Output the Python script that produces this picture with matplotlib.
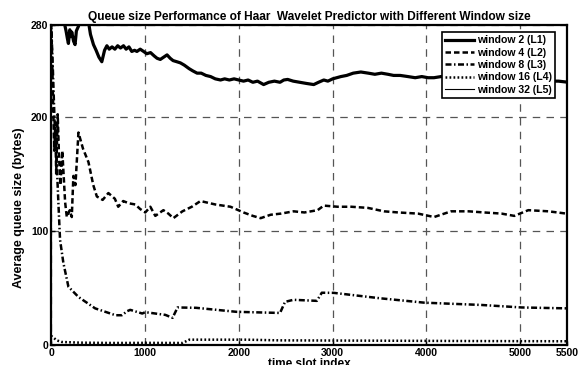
"""Queue size of the Haar wavelet predictor for several window sizes."""

import matplotlib

matplotlib.use("Agg")
import matplotlib.pyplot as plt

# values
l1_x = [0, 60, 120, 160, 175, 185, 200, 210, 221, 240, 256, 270, 292, 310, 363, 395, 420,
        452, 480, 510, 541, 570, 595, 620, 650, 680, 710, 740, 772, 800, 830, 860, 890, 915,
        950, 986, 1020, 1060, 1100, 1130, 1164, 1200, 1236, 1270, 1300, 1340, 1378, 1420,
        1470, 1510, 1556, 1600, 1650, 1700, 1750, 1806, 1850, 1900, 1950, 2000, 2051, 2100,
        2150, 2200, 2265, 2320, 2380, 2440, 2480, 2521, 2580, 2650, 2720, 2799, 2850, 2906,
        2950, 3000, 3088, 3150, 3220, 3301, 3380, 3450, 3520, 3590, 3650, 3720, 3803, 3880,
        3950, 4017, 4080, 4156, 4250, 4350, 4450, 4550, 4650, 4750, 4850, 4950, 5050, 5150,
        5250, 5350, 5406, 5512]
l1_y = [300, 300, 290, 275, 268, 264, 276, 270, 274, 266, 263, 275, 279, 290, 290, 285, 272,
        263, 258, 252, 248, 258, 262, 259, 261, 259, 262, 260, 262, 259, 261, 257, 258, 257,
        259, 257, 255, 256, 253, 251, 250, 252, 254, 251, 249, 248, 247, 245, 242, 240, 238,
        238, 236, 235, 233, 232, 233, 232, 233, 232, 231, 232, 230, 231, 228, 230, 231, 230,
        232, 232.5, 231, 230, 229, 228, 230, 232, 231, 233, 235, 236, 238, 239, 238, 237,
        238, 237, 236, 236, 235, 234, 235, 234, 234, 235, 235, 234, 235, 234, 233, 233, 232,
        233, 232, 232, 231, 231, 231, 230]

l2_x = [0, 15, 25, 35, 45, 55, 71, 85, 100, 120, 150, 168, 200, 221, 238, 260, 292, 340,
        399, 450, 488, 550, 611, 680, 716, 769, 830, 897, 950, 1004, 1058, 1111, 1197, 1250,
        1303, 1400, 1500, 1592, 1750, 1912, 2051, 2150, 2233, 2340, 2450, 2585, 2700, 2840,
        2906, 3055, 3200, 3376, 3547, 3700, 3910, 4081, 4263, 4450, 4615, 4800, 4936, 5085,
        5300, 5491]
l2_y = [290, 240, 200, 170, 195, 150, 202, 165, 140, 170, 125, 112, 118, 112, 148, 140, 186,
        172, 160, 140, 130, 127, 133, 128, 121, 126, 124, 123, 119, 116, 121, 113, 118, 115,
        111, 117, 121, 126, 123, 121, 116, 113, 111, 114, 115, 117, 116, 118, 122, 121, 121,
        120, 117, 116, 115, 112, 117, 117, 116, 115, 113, 118, 117, 115]

l3_x = [0, 20, 40, 60, 78, 96, 131, 185, 292, 470, 687, 755, 812, 844, 972, 1004, 1218, 1295,
        1348, 1546, 1974, 2440, 2493, 2582, 2832, 2885, 3012, 3512, 3977, 4585, 5015, 5512]
l3_y = [285, 240, 190, 160, 125, 92, 72, 51, 42, 32, 26, 26, 29.6, 30.7, 27.5, 28.7, 26.3, 23.7,
        32.8, 32.5, 29, 28, 37.7, 39.5, 38.6, 45.7, 45.6, 40.8, 37, 35, 32.8, 32]

l4_x = [0, 26, 60, 114, 300, 652, 1000, 1400, 1474, 2083, 2435, 3515, 4500, 5512]
l4_y = [8, 6.4, 4, 2.6, 2.0, 1.7, 1.8, 1.7, 4.6, 4.6, 4.0, 3.7, 3.4, 3.2]

x_ticks = [0, 1000, 2000, 3000, 4000, 5000, 5500]
y_ticks = [0, 100, 200, 280]
labels = ["window 2 (L1)", "window 4 (L2)", "window 8 (L3)", "window 16 (L4)", "window 32 (L5)"]

plt.rcParams["font.family"] = ["Liberation Sans", "DejaVu Sans"]
plt.rcParams["font.weight"] = "bold"

fig = plt.figure(figsize=(5.8, 3.65), dpi=100)
ax = fig.add_axes([0.088, 0.055, 0.89, 0.876])

ax.plot(l1_x, l1_y, color="black", lw=2.3, ls="-", label=labels[0])
ax.plot(l2_x, l2_y, color="black", lw=1.8, ls=(0, (2.2, 1.2)), label=labels[1])
ax.plot(l3_x, l3_y, color="black", lw=1.8, ls=(0, (2.4, 1.0, 0.6, 1.0)), label=labels[2])
ax.plot(l4_x, l4_y, color="black", lw=1.8, ls=(0, (0.7, 0.9)), label=labels[3])
ax.plot([], [], color="black", lw=0.8, ls="-", label=labels[4])

ax.set_xlim(0, 5500)
ax.set_ylim(0, 280)
ax.set_xticks(x_ticks)
ax.set_yticks(y_ticks)
ax.tick_params(axis="both", direction="in", labelsize=7.5, length=3, width=1, pad=2)
for lab in ax.get_xticklabels() + ax.get_yticklabels():
    lab.set_fontweight("bold")

ax.grid(True, color="#555555", lw=0.9, ls=(0, (6, 5)))
for spine in ax.spines.values():
    spine.set_linewidth(1.6)

ax.set_title("Queue size Performance of Haar  Wavelet Predictor with Different Window size",
             fontsize=8.6, fontweight="bold", pad=4)
ax.set_xlabel("time slot index", fontsize=8.5, fontweight="bold", labelpad=0)
ax.set_ylabel("Average queue size (bytes)", fontsize=9, fontweight="bold")
ax.yaxis.set_label_coords(-0.05, 0.43)

leg = ax.legend(loc="upper right", fontsize=7.6, frameon=True, fancybox=False,
                edgecolor="black", framealpha=1, borderpad=0.3, labelspacing=0.22,
                handlelength=2.7, handletextpad=0.3, borderaxespad=0.0,
                bbox_to_anchor=(0.976, 0.978))
leg.get_frame().set_linewidth(1.2)
for t in leg.get_texts():
    t.set_fontweight("bold")

fig.savefig("out.png", dpi=100)
